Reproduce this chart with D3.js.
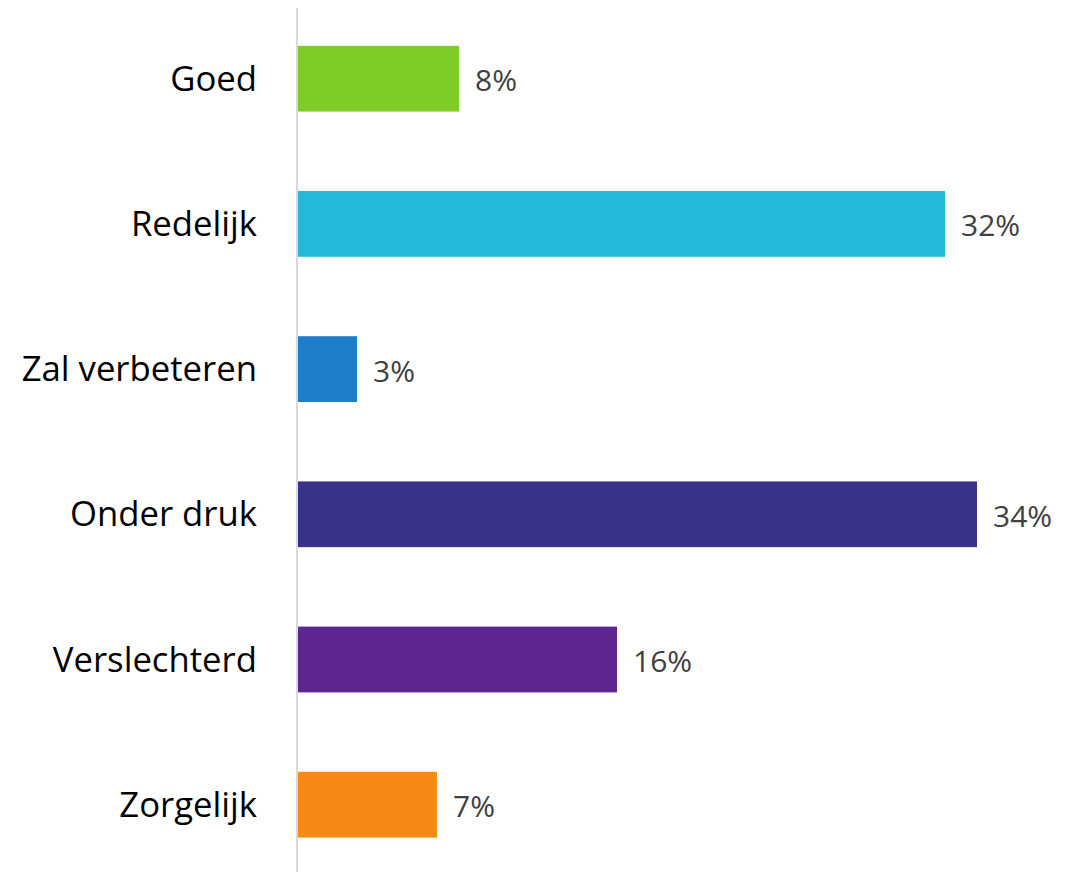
<!DOCTYPE html>
<html><head><meta charset="utf-8">
<script src="https://cdn.jsdelivr.net/npm/d3@7"></script>
<style>html,body{margin:0;padding:0;background:#fff;}svg{display:block;}</style>
</head><body>
<svg id="c" width="1079" height="872"></svg>
<script>
const categories = ["Goed","Redelijk","Zal verbeteren","Onder druk","Verslechterd","Zorgelijk"];
const values = [8.1, 32.4, 3.0, 34.0, 16.0, 7.0];
const valueLabels = ["8%","32%","3%","34%","16%","7%"];
const colors = ["#7FCC28","#24B8D9","#1E7DC8","#3A3189","#5E2690","#F58A17"];

const svg = d3.select("#c");
const x0 = 297;
const x = d3.scaleLinear().domain([0, 34]).range([x0, x0 + 680]);
const y = d3.scaleBand().domain(categories).range([6.1, 877.3]).paddingInner(0.547).paddingOuter(0.2735);

svg.selectAll("rect.bar").data(categories).enter().append("rect")
  .attr("class","bar")
  .attr("x", x(0))
  .attr("y", d => y(d))
  .attr("width", (d,i) => x(values[i]) - x(0))
  .attr("height", y.bandwidth())
  .attr("fill", (d,i) => colors[i]);

svg.append("line").attr("x1", x0).attr("x2", x0).attr("y1", 8).attr("y2", 872)
  .attr("stroke", "#d9d9d9").attr("stroke-width", 2);

svg.selectAll("text.cat").data(categories).enter().append("text")
  .attr("class","cat")
  .attr("x", 257)
  .attr("y", d => y(d) + y.bandwidth()/2)
  .attr("dy", "0.35em")
  .attr("text-anchor","end")
  .attr("font-family","'Open Sans', 'Noto Sans', sans-serif")
  .attr("font-size", 34.7)
  .attr("fill","#000")
  .text(d => d);

svg.selectAll("text.val").data(categories).enter().append("text")
  .attr("class","val")
  .attr("x", (d,i) => x(values[i]) + 16)
  .attr("y", d => y(d) + y.bandwidth()/2 + 2)
  .attr("dy", "0.35em")
  .attr("font-family","'Open Sans', 'Noto Sans', sans-serif")
  .attr("font-size", 30)
  .attr("fill","#404040")
  .text((d,i) => valueLabels[i]);
</script>
</body></html>
